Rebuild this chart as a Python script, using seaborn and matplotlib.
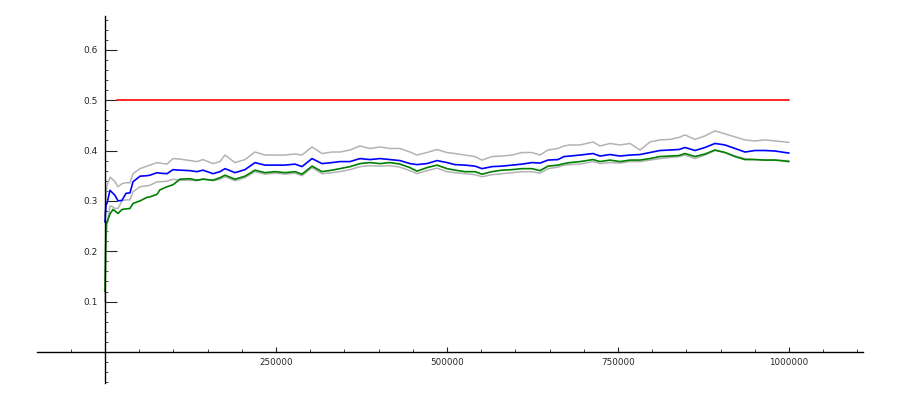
import numpy as np
import pandas as pd
import seaborn as sns
import matplotlib
matplotlib.use("Agg")
import matplotlib.pyplot as plt
from matplotlib.ticker import FixedLocator, MultipleLocator

# trial index (x) at which the running estimates were read
x_vals = [0, 1462, 2924, 7310, 11696, 14620, 19006, 24854, 30702, 36550,
          40936, 51170, 61404, 65789, 76023, 80409, 90643, 99415, 109649, 124269,
          134503, 143275, 157895, 168129, 175439, 190058, 204678, 219298, 233918, 248538,
          263158, 277778, 288012, 302632, 317251, 331871, 343567, 358187, 372807, 387427,
          402047, 416667, 431287, 445906, 456140, 470760, 485380, 500000, 511696, 526316,
          540936, 551170, 565789, 580409, 595029, 609649, 624269, 635965, 647661, 662281,
          671053, 679825, 694444, 713450, 723684, 738304, 752924, 767544, 782164, 796784,
          811404, 826023, 839181, 847953, 862573, 877193, 891813, 906433, 921053, 935673,
          950292, 964912, 979532, 994152, 1000000]

estimate = [0.258, 0.292, 0.295, 0.321, 0.315, 0.311, 0.300, 0.301, 0.315, 0.316,
            0.338, 0.349, 0.350, 0.351, 0.356, 0.355, 0.354, 0.362, 0.361, 0.360,
            0.358, 0.361, 0.354, 0.358, 0.364, 0.356, 0.362, 0.376, 0.371, 0.371,
            0.371, 0.373, 0.368, 0.384, 0.374, 0.376, 0.378, 0.378, 0.384, 0.382,
            0.384, 0.382, 0.380, 0.374, 0.372, 0.374, 0.380, 0.376, 0.372, 0.371,
            0.369, 0.364, 0.368, 0.369, 0.371, 0.373, 0.376, 0.375, 0.381, 0.382,
            0.388, 0.389, 0.391, 0.394, 0.389, 0.392, 0.389, 0.391, 0.392, 0.396,
            0.400, 0.401, 0.402, 0.406, 0.400, 0.406, 0.414, 0.411, 0.404, 0.397,
            0.400, 0.400, 0.399, 0.396, 0.395]

other = [0.120, 0.255, 0.258, 0.274, 0.283, 0.280, 0.275, 0.283, 0.284, 0.285,
         0.295, 0.300, 0.307, 0.308, 0.313, 0.322, 0.328, 0.332, 0.343, 0.344,
         0.341, 0.343, 0.341, 0.346, 0.351, 0.343, 0.349, 0.361, 0.356, 0.358,
         0.356, 0.358, 0.353, 0.369, 0.358, 0.361, 0.364, 0.368, 0.374, 0.376,
         0.374, 0.376, 0.373, 0.366, 0.359, 0.366, 0.371, 0.364, 0.361, 0.358,
         0.358, 0.353, 0.358, 0.361, 0.362, 0.364, 0.364, 0.360, 0.369, 0.371,
         0.374, 0.376, 0.378, 0.382, 0.378, 0.381, 0.378, 0.381, 0.381, 0.384,
         0.388, 0.389, 0.390, 0.394, 0.388, 0.393, 0.401, 0.396, 0.388, 0.382,
         0.382, 0.381, 0.381, 0.379, 0.378]

upper = [0.270, 0.310, 0.330, 0.347, 0.342, 0.338, 0.328, 0.334, 0.336, 0.336,
         0.354, 0.364, 0.369, 0.371, 0.376, 0.375, 0.373, 0.384, 0.383, 0.380,
         0.378, 0.382, 0.374, 0.378, 0.391, 0.376, 0.382, 0.397, 0.391, 0.391,
         0.391, 0.393, 0.391, 0.407, 0.394, 0.397, 0.397, 0.401, 0.409, 0.404,
         0.407, 0.404, 0.404, 0.397, 0.391, 0.396, 0.402, 0.396, 0.394, 0.391,
         0.388, 0.381, 0.388, 0.389, 0.391, 0.396, 0.396, 0.391, 0.401, 0.404,
         0.409, 0.411, 0.411, 0.417, 0.409, 0.414, 0.411, 0.414, 0.401, 0.417,
         0.421, 0.422, 0.426, 0.431, 0.422, 0.429, 0.439, 0.433, 0.427, 0.421,
         0.419, 0.421, 0.419, 0.417, 0.416]

lower = [0.100, 0.220, 0.250, 0.290, 0.288, 0.285, 0.285, 0.300, 0.302, 0.302,
         0.318, 0.328, 0.330, 0.331, 0.338, 0.338, 0.339, 0.343, 0.341, 0.341,
         0.340, 0.344, 0.340, 0.343, 0.348, 0.340, 0.346, 0.358, 0.353, 0.355,
         0.353, 0.355, 0.350, 0.366, 0.354, 0.356, 0.358, 0.362, 0.368, 0.370,
         0.369, 0.370, 0.367, 0.360, 0.354, 0.360, 0.365, 0.358, 0.356, 0.354,
         0.352, 0.348, 0.352, 0.354, 0.356, 0.358, 0.358, 0.355, 0.364, 0.367,
         0.371, 0.372, 0.373, 0.378, 0.374, 0.376, 0.375, 0.378, 0.378, 0.381,
         0.384, 0.386, 0.388, 0.391, 0.384, 0.391, 0.400, 0.396, 0.389, 0.384,
         0.382, 0.381, 0.381, 0.380, 0.380]

ref_x = [17000, 1000000]
ref_y = [0.5, 0.5]

x_ticks = [250000, 500000, 750000, 1000000]
y_ticks = [0.1, 0.2, 0.3, 0.4, 0.5, 0.6]

df = pd.DataFrame({"x": x_vals, "estimate": estimate, "other": other,
                   "upper": upper, "lower": lower})
ref = pd.DataFrame({"x": ref_x, "y": ref_y})

sns.set_style("white")
fig = plt.figure(figsize=(9, 4), dpi=100)
ax = fig.add_axes([37 / 900, 17 / 400, 826 / 900, 367 / 400])

# grey band first, then the estimates on top
sns.lineplot(data=df, x="x", y="upper", ax=ax, color="#b3b3b3", linewidth=1.1,
             estimator=None, sort=False)
sns.lineplot(data=df, x="x", y="lower", ax=ax, color="#b3b3b3", linewidth=1.1,
             estimator=None, sort=False)
sns.lineplot(data=df, x="x", y="other", ax=ax, color="#008000", linewidth=1.2,
             estimator=None, sort=False)
sns.lineplot(data=df, x="x", y="estimate", ax=ax, color="#0000ff", linewidth=1.2,
             estimator=None, sort=False)
sns.lineplot(data=ref, x="x", y="y", ax=ax, color="#ff0000", linewidth=1.2,
             estimator=None, sort=False)

ax.set_xlim(-99400, 1108187)
ax.set_ylim(-0.0615, 0.667)
ax.set_xlabel("")
ax.set_ylabel("")

# sage-style axes crossing at the origin
ax.spines["left"].set_position(("data", 0))
ax.spines["bottom"].set_position(("data", 0))
ax.spines["right"].set_visible(False)
ax.spines["top"].set_visible(False)
for s in ("left", "bottom"):
    ax.spines[s].set_color("black")
    ax.spines[s].set_linewidth(1.0)

ax.xaxis.set_major_locator(FixedLocator(x_ticks))
ax.xaxis.set_minor_locator(MultipleLocator(50000))
ax.yaxis.set_major_locator(FixedLocator(y_ticks))
ax.yaxis.set_minor_locator(MultipleLocator(0.02))
ax.set_xticklabels([str(t) for t in x_ticks])
ax.set_yticklabels([str(t) for t in y_ticks])

ax.tick_params(axis="y", which="major", direction="in", length=8.5, width=0.8,
               labelsize=6.5, pad=5, left=True)
ax.tick_params(axis="y", which="minor", direction="in", length=2.2, width=0.6, left=True)
ax.tick_params(axis="x", which="major", direction="in", length=3.8, width=0.8,
               labelsize=6.3, pad=4, bottom=True)
ax.tick_params(axis="x", which="minor", direction="in", length=2.0, width=0.6, bottom=True)

fig.savefig("out.png", dpi=100)
